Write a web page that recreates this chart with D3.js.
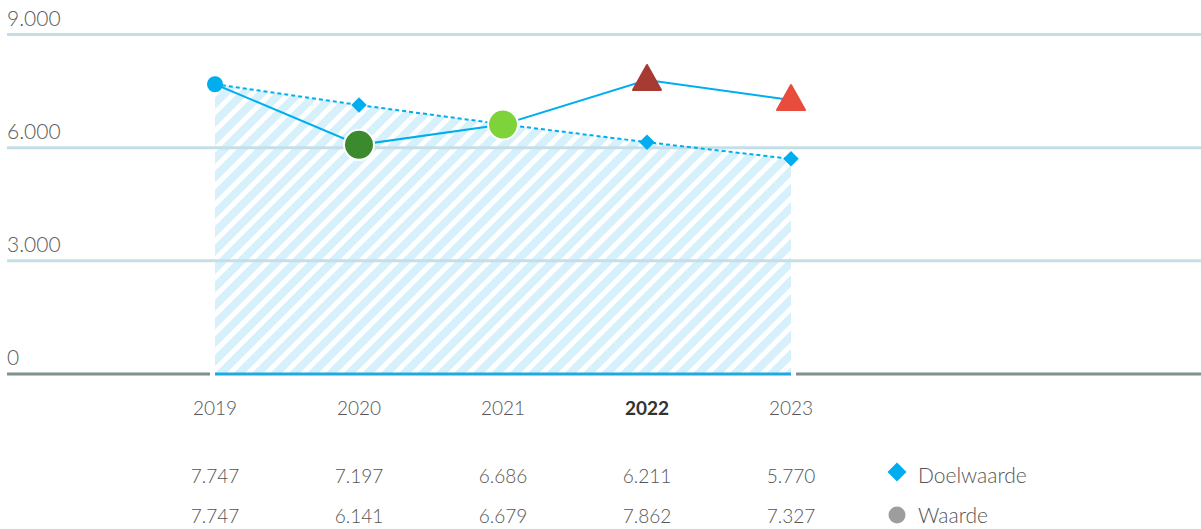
<!DOCTYPE html>
<html>
<head>
<meta charset="utf-8">
<script src="https://cdn.jsdelivr.net/npm/d3@7"></script>
<style>
  body { margin: 0; background: #fff; }
  svg { display: block; font-family: "Source Sans Pro", Lato, "Open Sans", sans-serif; }
</style>
</head>
<body>
<svg id="chart" width="1201" height="529"></svg>
<script>
const years = ["2019", "2020", "2021", "2022", "2023"];
const doelwaarde = [7747, 7197, 6686, 6211, 5770];
const waarde = [7747, 6141, 6679, 7862, 7327];
const waardeShape = ["dot", "circle", "circle", "triangle", "triangle"];
const waardeColor = ["#00aeef", "#3c8a2e", "#7ed33a", "#a63b31", "#e84c3d"];
const yTicks = [0, 3000, 6000, 9000];
const highlightYear = "2022";

const svg = d3.select("#chart");
const x = d3.scalePoint().domain(years).range([215, 791]);
const y = d3.scaleLinear().domain([0, 9000]).range([376.5, 37]);
const gridShift = -2.5; // grid strokes sit slightly above the data baseline
const fmt = v => d3.format(",")(v).replace(/,/g, ".");

// hatch pattern
const defs = svg.append("defs");
const pat = defs.append("pattern")
    .attr("id", "hatch")
    .attr("patternUnits", "userSpaceOnUse")
    .attr("width", 13).attr("height", 13)
    .attr("patternTransform", "rotate(45)");
pat.append("rect").attr("width", 8).attr("height", 13).attr("fill", "#d6f0fc");

// area under doelwaarde
const area = d3.area()
    .x((d, i) => x(years[i]))
    .y0(y(0) + gridShift)
    .y1(d => y(d));
svg.append("path").datum(doelwaarde)
    .attr("d", area)
    .attr("fill", "url(#hatch)");

// grid
svg.append("g").selectAll("line")
    .data(yTicks.filter(d => d > 0))
    .join("line")
    .attr("x1", 7).attr("x2", 1201)
    .attr("y1", d => y(d) + gridShift).attr("y2", d => y(d) + gridShift)
    .attr("stroke", "#c4dfe7").attr("stroke-width", 3);

svg.append("g").selectAll("text")
    .data(yTicks)
    .join("text")
    .attr("x", 7).attr("y", d => y(d) + gridShift - 9)
    .attr("fill", "#5a5a5a").style("font-size", "21px").style("font-weight", 300)
    .text(d => fmt(d));

// zero axis
const y0 = y(0) + gridShift;
svg.append("line")
    .attr("x1", 7).attr("x2", x(years[0]) - 5).attr("y1", y0).attr("y2", y0)
    .attr("stroke", "#7e9090").attr("stroke-width", 3);
svg.append("line")
    .attr("x1", x(years[years.length - 1]) + 5).attr("x2", 1201).attr("y1", y0).attr("y2", y0)
    .attr("stroke", "#7e9090").attr("stroke-width", 3);
svg.append("line")
    .attr("x1", x(years[0])).attr("x2", x(years[years.length - 1]))
    .attr("y1", y0).attr("y2", y0)
    .attr("stroke", "#1fa9e1").attr("stroke-width", 3);

// lines
const line = d3.line().x((d, i) => x(years[i])).y(d => y(d));
svg.append("path").datum(doelwaarde)
    .attr("d", line).attr("fill", "none")
    .attr("stroke", "#00aeef").attr("stroke-width", 2)
    .attr("stroke-dasharray", "4,3");
svg.append("path").datum(waarde)
    .attr("d", line).attr("fill", "none")
    .attr("stroke", "#00aeef").attr("stroke-width", 2);

// doelwaarde diamonds
svg.append("g").selectAll("path")
    .data(doelwaarde)
    .join("path")
    .attr("d", d3.symbol(d3.symbolSquare, 120)())
    .attr("transform", (d, i) => `translate(${x(years[i])},${y(d)}) rotate(45)`)
    .attr("fill", "#00aeef");

// waarde markers
const wm = svg.append("g").selectAll("g")
    .data(waarde)
    .join("g")
    .attr("transform", (d, i) => `translate(${x(years[i])},${y(d)})`);
wm.each(function (d, i) {
    const g = d3.select(this);
    const s = waardeShape[i];
    if (s === "dot") {
        g.append("circle").attr("r", 8).attr("fill", waardeColor[i]);
    } else if (s === "circle") {
        g.append("circle").attr("r", 15).attr("fill", waardeColor[i])
            .attr("stroke", "#fff").attr("stroke-width", 2);
    } else {
        g.append("path")
            .attr("d", "M0,-15 L14,10 L-14,10 Z")
            .attr("fill", waardeColor[i])
            .attr("stroke", waardeColor[i]).attr("stroke-width", 2)
            .attr("stroke-linejoin", "round");
    }
});

// year labels
svg.append("g").selectAll("text")
    .data(years)
    .join("text")
    .attr("x", d => x(d)).attr("y", 415)
    .attr("text-anchor", "middle")
    .attr("fill", d => d === highlightYear ? "#333" : "#555")
    .style("font-size", "19px")
    .style("font-weight", d => d === highlightYear ? 700 : 300)
    .text(d => d);

// table rows
const rows = [
    { name: "Doelwaarde", values: doelwaarde, yy: 483 },
    { name: "Waarde", values: waarde, yy: 523 }
];
rows.forEach(r => {
    svg.append("g").selectAll("text")
        .data(r.values)
        .join("text")
        .attr("x", (d, i) => x(years[i])).attr("y", r.yy)
        .attr("text-anchor", "middle")
        .attr("fill", "#555").style("font-size", "19px").style("font-weight", 300)
        .text(d => fmt(d));
    svg.append("text")
        .attr("x", 918).attr("y", r.yy)
        .attr("fill", "#555").style("font-size", "21px").style("font-weight", 300)
        .text(r.name);
});
svg.append("path")
    .attr("d", d3.symbol(d3.symbolSquare, 180)())
    .attr("transform", "translate(897,472) rotate(45)")
    .attr("fill", "#00aeef");
svg.append("circle")
    .attr("cx", 897).attr("cy", 515).attr("r", 8.5)
    .attr("fill", "#9d9d9d");
</script>
</body>
</html>
